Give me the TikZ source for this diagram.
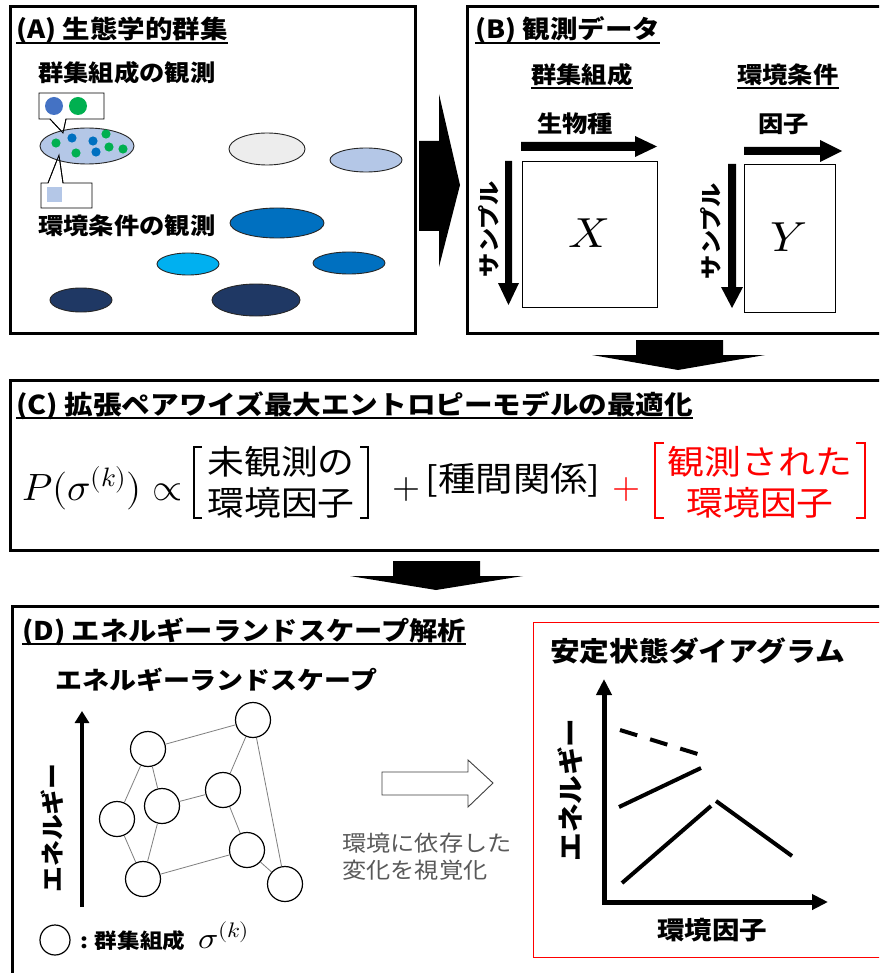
\documentclass[tikz,border=0pt]{standalone}
\usepackage{graphicx}
\usepackage{fontspec}
\usepackage{unicode-math}
\setmathfont{Latin Modern Math}
\newfontfamily\jp[FakeStretch=1.1]{Noto Sans CJK JP}
\usetikzlibrary{arrows.meta,calc}
\definecolor{lblue}{HTML}{B4C7E7}
\definecolor{lgrey}{HTML}{EDEDED}
\definecolor{mblue}{HTML}{0070C0}
\definecolor{cyanb}{HTML}{00B0F0}
\definecolor{navy}{HTML}{1F3864}
\definecolor{cblue}{HTML}{4472C4}
\definecolor{cgreen}{HTML}{00B050}
\definecolor{gtext}{HTML}{595959}
\definecolor{edgegrey}{HTML}{7F7F7F}
\definecolor{rred}{HTML}{FF0000}
\tikzset{
  frame/.style={line width=3pt, draw=black},
  ttl/.style={anchor=base west, inner sep=0pt, font=\jp\bfseries\fontsize{25}{30}\selectfont},
  sub/.style={anchor=base west, inner sep=0pt, font=\jp\bfseries\fontsize{23}{28}\selectfont},
  lab/.style={inner sep=0pt, font=\jp\bfseries\fontsize{22}{26}\selectfont},
  uline/.style={line width=1.3pt},
  eln/.style={draw=black!85, line width=0.9pt},
  callout/.style={draw=black, line width=0.8pt, fill=white},
  blk/.style={fill=black, draw=none},
  brk/.style={line width=1.4pt, line cap=rect},
  frm/.style={inner sep=0pt, font=\jp\fontsize{33.5}{41}\selectfont, align=center},
  circ/.style={circle, draw=black, line width=1.2pt, fill=white, minimum size=35pt, inner sep=0pt},
  edge/.style={draw=edgegrey, line width=0.8pt},
  sline/.style={line width=4pt},
  mat/.style={draw=black, line width=0.8pt, inner sep=0pt}
}
\begin{document}
\begin{tikzpicture}[x=1pt,y=-1pt]
\useasboundingbox (0,0) rectangle (879,973);
\clip (0,0) rectangle (879,973);
\fill[white] (0,0) rectangle (879,973);

% ---------- Panel A ----------
\draw[frame] (10,7) rectangle (415,333);
\node[ttl] (ta) at (16,39) {(A) 生態学的群集};
\draw[uline] ($(ta.base west)+(0,4)$) -- ($(ta.base east)+(0,4)$);
\node[sub] (sa1) at (38,82) {群集組成の観測};
\node[sub] (sa2) at (38,235) {環境条件の観測};

% callouts
\draw[callout] (39,93) -- (104,93) -- (104,119) -- (66,119) -- (63,133) -- (50,119) -- (39,119) -- cycle;
\fill[cblue] (54,106) circle (9);
\fill[cgreen] (78,106) circle (9);
\draw[callout] (41,183) -- (48,183) -- (59,155) -- (63,183) -- (92,183) -- (92,208) -- (41,208) -- cycle;
\fill[lblue] (47,187) rectangle (62,202);

% community ellipse
\draw[eln, fill=lblue] (87,146) ellipse [x radius=47, y radius=18];
\draw[line width=0.8pt] (50,119) -- (63,133) -- (66,119);
\draw[line width=0.8pt] (48,183) -- (59,155) -- (63,183);
\foreach \p in {(72,138),(93,141),(96,152)} \fill[mblue] \p circle (4.6);
\foreach \p in {(56,143),(106,134),(76,153),(109,147),(123,149)} \fill[cgreen] \p circle (4.6);

% site ellipses
\draw[eln, fill=lgrey] (267,149) ellipse [x radius=38, y radius=16];
\draw[eln, fill=lblue] (366,160) ellipse [x radius=36, y radius=12];
\draw[eln, fill=mblue] (277,223) ellipse [x radius=47, y radius=15];
\draw[eln, fill=cyanb] (188,264) ellipse [x radius=31, y radius=11];
\draw[eln, fill=mblue] (349,263) ellipse [x radius=36, y radius=11];
\draw[eln, fill=navy] (81,300) ellipse [x radius=31, y radius=12];
\draw[eln, fill=navy] (256,300) ellipse [x radius=44, y radius=16];

% big chevron arrow A -> B
\fill[blk] (419,141) -- (439,141) -- (439,94) -- (460,185) -- (439,267) -- (439,231) -- (419,231) -- cycle;

% ---------- Panel B ----------
\draw[frame] (467,7) rectangle (890,333);
\node[ttl] (tb) at (475,39) {(B) 観測データ};
\draw[uline] ($(tb.base west)+(0,4)$) -- ($(tb.base east)+(0,4)$);
\node[sub] (hb1) at (531,84) {群集組成};
\draw[uline] ($(hb1.base west)+(0,4)$) -- ($(hb1.base east)+(0,4)$);
\node[sub] (hb2) at (737,84) {環境条件};
\draw[uline] ($(hb2.base west)+(0,4)$) -- ($(hb2.base east)+(0,4)$);
\node[sub] (spc) at (537,133) {生物種};
\node[sub] (fac) at (758,133) {因子};

% arrows in B
\fill[blk] (521,142) -- (635,142) -- (635,136) -- (657,146.5) -- (635,157) -- (635,151) -- (521,151) -- cycle;
\fill[blk] (744,147) -- (820,147) -- (820,140) -- (842,151) -- (820,162) -- (820,155) -- (744,155) -- cycle;
\fill[blk] (505,161) -- (512,161) -- (512,283) -- (519,283) -- (508.5,305) -- (498,283) -- (505,283) -- cycle;
\fill[blk] (728,164) -- (736,164) -- (736,287) -- (743,287) -- (732,308) -- (721,287) -- (728,287) -- cycle;

\node[lab, rotate=90] (smp1) at (489,229) {サンプル};
\node[lab, rotate=90] (smp2) at (711,231) {サンプル};

\node[mat, minimum width=135pt, minimum height=146pt] (mx) at (589.5,234) {};
\node[font=\fontsize{42}{44}\selectfont, inner sep=0pt] (xl) at (589,233) {\scalebox{1.1}[1]{$X$}};
\node[mat, minimum width=91pt, minimum height=148pt] (my) at (789.5,238) {};
\node[font=\fontsize{42}{44}\selectfont, inner sep=0pt] (yl) at (789,237) {\scalebox{1.1}[1]{$Y$}};

% arrow B -> C
\fill[blk] (636,340) -- (723,340) -- (723,355) -- (765,355) -- (678,370) -- (592,355) -- (636,355) -- cycle;

% ---------- Panel C ----------
\draw[frame] (10,380) rectangle (890,550);
\node[ttl, font=\jp\bfseries\fontsize{26}{30}\selectfont] (tc) at (16,414) {(C) 拡張ペアワイズ最大エントロピーモデルの最適化};
\draw[uline] ($(tc.base west)+(0,4)$) -- ($(tc.base east)+(0,4)$);

\node[anchor=base west, inner sep=0pt, font=\fontsize{38}{40}\selectfont] (pf) at (22,500) {\scalebox{1.02}[1]{$P(\sigma^{(k)})\propto$}};
\node[frm] (b1) at (281,482) {未観測の\\環境因子};
\draw[brk] (201,447) -- (194,447) -- (194,518) -- (201,518);
\draw[brk] (361,447) -- (368,447) -- (368,518) -- (361,518);
\node[inner sep=0pt, font=\fontsize{36}{40}\selectfont] (pl1) at (406,489) {$+$};
\node[frm, font=\jp\fontsize{34}{41}\selectfont] (b2) at (513,480) {[種間関係]};
\node[inner sep=0pt, font=\fontsize{36}{40}\selectfont, text=rred] (pl2) at (626,489) {$+$};
\node[frm, text=rred] (b3) at (760,482) {観測された\\環境因子};
\draw[brk, rred] (663,443) -- (655,443) -- (655,518) -- (663,518);
\draw[brk, rred] (857,443) -- (865,443) -- (865,518) -- (857,518);

% arrow C -> D
\fill[blk] (393,561) -- (480,561) -- (480,576) -- (523,576) -- (436,590) -- (350,576) -- (393,576) -- cycle;

% ---------- Panel D ----------
\draw[frame] (12,606) rectangle (890,990);
\node[ttl, font=\jp\bfseries\fontsize{25.7}{30}\selectfont] (td) at (22,640) {(D) エネルギーランドスケープ解析};
\draw[uline] ($(td.base west)+(0,4)$) -- ($(td.base east)+(0,4)$);
\node[sub, font=\jp\bfseries\fontsize{24.5}{28}\selectfont] (els) at (55,689) {エネルギーランドスケープ};

\draw[line width=4.5pt, -{Triangle[length=12pt,width=14pt]}] (82,907) -- (82,711);
\node[lab, rotate=90, font=\jp\bfseries\fontsize{23.5}{28}\selectfont] (en1) at (52,828) {エネルギー};

\node[circ] (n1) at (253,720) {};
\node[circ] (n2) at (148,749) {};
\node[circ] (n3) at (223,790) {};
\node[circ] (n4) at (162,806) {};
\node[circ] (n5) at (117,819) {};
\node[circ] (n6) at (247,850) {};
\node[circ] (n7) at (143,879) {};
\node[circ] (n8) at (285,884) {};
\draw[edge] (n2) -- (n1);
\draw[edge] (n1) -- (n3);
\draw[edge] (n1) -- (n8);
\draw[edge] (n2) -- (n5);
\draw[edge] (n2) -- (n4);
\draw[edge] (n4) -- (n3);
\draw[edge] (n3) -- (n6);
\draw[edge] (n5) -- (n7);
\draw[edge] (n4) -- (n7);
\draw[edge] (n7) -- (n6);
\draw[edge] (n6) -- (n8);

\node[circ, minimum size=30pt] (lc) at (55,940) {};
\node[sub, font=\jp\bfseries\fontsize{20.5}{24}\selectfont] (lt) at (80,948) {: 群集組成};
\node[anchor=base west, inner sep=0pt, font=\fontsize{30}{32}\selectfont] (ls) at (198,948) {\scalebox{1.12}[1]{$\sigma^{(k)}$}};

% hollow arrow
\draw[draw=black!75, line width=0.9pt, fill=white] (382,772) -- (468,772) -- (468,760) -- (493,783) -- (468,807) -- (468,795) -- (382,795) -- cycle;
\node[anchor=west, inner sep=0pt, align=left, text=gtext, font=\jp\fontsize{22}{27}\selectfont] (gt) at (342,857) {環境に依存した\\変化を視覚化};

% stability diagram
\draw[rred, line width=1pt] (533,622) rectangle (890,957);
\node[ttl, font=\jp\bfseries\fontsize{27}{30}\selectfont] (ts) at (550,661) {安定状態ダイアグラム};
\draw[line width=5pt, {Triangle[length=16pt,width=15pt]}-{Triangle[length=16pt,width=15pt]}] (604,679) -- (604,902) -- (828,902);
\node[lab, rotate=90, font=\jp\bfseries\fontsize{26}{30}\selectfont] (en2) at (570,790) {エネルギー};
\node[lab, font=\jp\bfseries\fontsize{25}{30}\selectfont] (envf) at (712,930) {環境因子};
\draw[sline, dash pattern=on 18pt off 13.5pt] (620,730) -- (701,755);
\draw[sline] (619,807) -- (701,768);
\draw[sline] (622,883) -- (711,806);
\draw[sline] (716,801) -- (792,856);
\end{tikzpicture}
\end{document}
